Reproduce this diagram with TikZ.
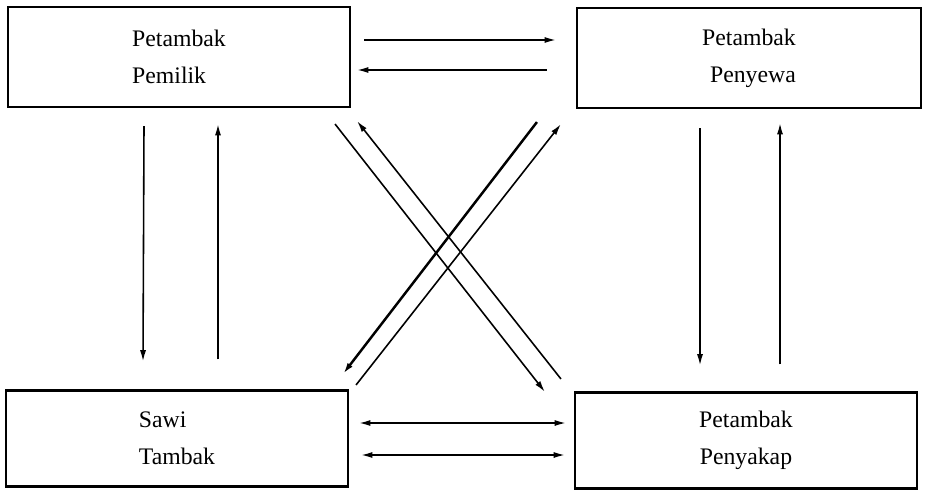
\documentclass[tikz,border=0pt]{standalone}
\usepackage{fontspec}
\setmainfont{Liberation Serif}
\usetikzlibrary{arrows.meta, calc}

\tikzset{
  kotak/.style={draw, line width=1.2pt, rectangle, minimum width=68.4mm, minimum height=20mm,
    font=\fontsize{13.5}{21}\selectfont},
  panah/.style={line width=0.9pt, -{Latex[length=6.5pt,width=3.5pt]}},
  panahdua/.style={line width=0.9pt, {Latex[length=6.5pt,width=3.5pt]}-{Latex[length=6.5pt,width=3.5pt]}}
}

\begin{document}
\begin{tikzpicture}[x=0.2mm, y=-0.2mm]
                \useasboundingbox (0,0) rectangle (925,490);
                % boxes
                \node[kotak, align=left] (pemilik) at (179,57) {Petambak\\Pemilik};
                \node[kotak, align=right, minimum width=68.8mm] (penyewa) at (749,58) {Petambak\\Penyewa};
                \node[kotak, align=left, minimum height=19.2mm] (sawi) at (177,438.5) {Sawi\\Tambak};
                \node[kotak, align=center, minimum height=19.2mm] (penyakap) at (746,440.5) {Petambak\\Penyakap};
                % top pair
                \draw[panah] ($(pemilik.east)+(13,-17)$) -- ($(penyewa.west)+(-20,-18)$);
                \draw[panah] ($(penyewa.west)+(-29,12)$) -- ($(pemilik.east)+(6,13)$);
                % left pair
                \draw[panah] ($(pemilik.south)+(-35,18)$) -- ($(sawi.north)+(-34,-28)$);
                \draw[panah] ($(sawi.north)+(41,-30)$) -- ($(pemilik.south)+(39,16)$);
                % right pair
                \draw[panah] ($(penyewa.south)+(-49,19)$) -- ($(penyakap.north)+(-46,-26)$);
                \draw[panah] ($(penyakap.north)+(34,-27)$) -- ($(penyewa.south)+(31,14)$);
                % bottom pair
                \draw[panahdua] ($(sawi.east)+(10,-15.5)$) -- ($(penyakap.west)+(-8,-17.5)$);
                \draw[panahdua] ($(sawi.east)+(12,16.5)$) -- ($(penyakap.west)+(-9,14.5)$);
                % diagonals
                \draw[panah] ($(pemilik.south east)+(-16,16)$) -- ($(penyakap.north west)+(-29,0.5)$);
                \draw[panah] ($(penyakap.north west)+(-13,-12.5)$) -- ($(pemilik.south east)+(6,13)$);
                \draw[panah, line width=1.4pt] ($(penyewa.south west)+(-39,13)$) -- ($(sawi.north east)+(-6,-15.5)$);
                \draw[panah] ($(sawi.north east)+(7,-4.5)$) -- ($(penyewa.south west)+(-15,15)$);
            \end{tikzpicture}
\end{document}
